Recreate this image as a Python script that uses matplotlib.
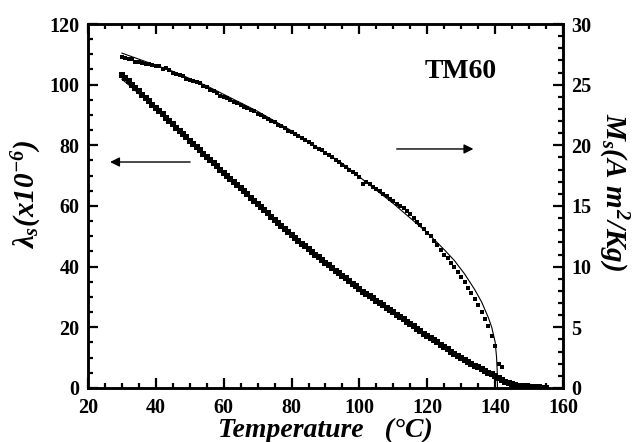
import matplotlib
matplotlib.use("Agg")
import matplotlib.pyplot as plt
import numpy as np

plt.rcParams['font.family'] = ['Liberation Serif', 'DejaVu Serif']
plt.rcParams['mathtext.fontset'] = 'custom'
plt.rcParams['mathtext.rm'] = 'Liberation Serif:italic:bold'
plt.rcParams['mathtext.it'] = 'Liberation Serif:italic:bold'
plt.rcParams['mathtext.bf'] = 'Liberation Serif:italic:bold'

# ---- data ----
lam_T = list(range(30, 156))
lam_data = [103.3, 102.2, 101.1, 100.0, 98.9, 97.8, 96.7, 95.6, 94.5, 93.4, 92.3,
            91.2, 90.2, 89.1, 88.0, 86.9, 85.8, 84.7, 83.7, 82.6, 81.5,
            80.4, 79.4, 78.4, 77.3, 76.2, 75.2, 74.1, 73.1, 72.0, 71.0,
            70.0, 69.0, 67.9, 66.9, 65.9, 64.9, 63.9, 62.8, 61.8, 60.8,
            59.8, 58.7, 57.6, 56.5, 55.5, 54.5, 53.5, 52.5, 51.5, 50.5,
            49.5, 48.6, 47.6, 46.7, 45.7, 44.8, 44.0, 43.1, 42.2, 41.3,
            40.4, 39.6, 38.7, 37.8, 36.9, 36.1, 35.2, 34.3, 33.5, 32.6,
            31.8, 31.1, 30.3, 29.6, 28.8, 28.0, 27.3, 26.5, 25.8, 25.0,
            24.2, 23.4, 22.7, 21.9, 21.1, 20.3, 19.5, 18.7, 17.9, 17.2,
            16.5, 15.7, 15.0, 14.2, 13.5, 12.8, 12.0, 11.3, 10.5, 9.8,
            9.2, 8.6, 8.0, 7.4, 6.8, 6.2, 5.6, 5.0, 4.5, 3.9,
            3.2, 2.6, 2.0, 1.5, 1.2, 0.9, 0.7, 0.6, 0.5, 0.4, 0.3, 0.25, 0.2, 0.15, 0.1]

lam_fit_T = [30, 33, 36, 40, 50, 60, 70, 80, 90, 100, 110, 120, 130, 140, 142, 145, 148, 152]
lam_fit = [101.8, 99.0, 96.0, 92.0, 81.4, 71.0, 60.8, 50.5, 41.3, 32.6, 25.0, 17.2, 9.8, 3.9, 2.6, 1.2, 0.6, 0.2]

ms_T = list(range(30, 143))
ms_data = [27.3, 27.2, 27.1, 27.1, 26.9, 26.9, 26.8, 26.7, 26.7, 26.6,
           26.5, 26.5, 26.3, 26.4, 26.2, 26.0, 25.9, 25.8, 25.7, 25.5,
           25.4, 25.3, 25.2, 25.1, 24.9, 24.8, 24.6, 24.5, 24.3, 24.1,
           24.0, 23.9, 23.7, 23.6, 23.5, 23.3, 23.2, 23.1, 22.9, 22.8,
           22.6, 22.5, 22.3, 22.2, 22.0, 21.9, 21.7, 21.6, 21.4, 21.2,
           21.1, 20.9, 20.8, 20.6, 20.4, 20.3, 20.1, 19.9, 19.7, 19.6,
           19.4, 19.2, 19.0, 18.8, 18.6, 18.4, 18.2, 18.0, 17.8, 17.6,
           17.4, 16.8, 17.0, 16.8, 16.6, 16.4, 16.2, 16.0, 15.8, 15.6,
           15.4, 15.2, 15.0, 14.8, 14.6, 14.3, 14.0, 13.7, 13.4, 13.1,
           12.8, 12.5, 12.1, 11.8, 11.4, 11.0, 10.7, 10.3, 9.95, 9.55,
           9.15, 8.7, 8.25, 7.8, 7.3, 6.8, 6.3, 5.7, 5.1, 4.3,
           3.5, 2.0, 1.7]

ms_fit_T = [30, 35, 40, 45, 50, 55, 60, 65, 70, 75, 80, 85, 90, 95, 100, 105, 110,
            115, 120, 125, 128, 131, 134, 136, 138, 139, 140, 140.4, 140.6, 140.7]
ms_fit = [27.6, 27.1, 26.6, 26.1, 25.5, 24.9, 24.2, 23.5, 22.8, 22.0, 21.2, 20.3, 19.4,
          18.5, 17.4, 16.3, 15.2, 14.0, 12.8, 11.4, 10.5, 9.4, 8.1, 7.1, 5.8, 5.0, 3.8,
          2.6, 1.5, 0.0]

x_ticks = [20, 40, 60, 80, 100, 120, 140, 160]
left_ticks = [0, 20, 40, 60, 80, 100, 120]
right_ticks = [0, 5, 10, 15, 20, 25, 30]

# ---- figure ----
W, H = 634, 442
fig = plt.figure(figsize=(W / 100, H / 100), dpi=100)
ax = fig.add_axes([0.1388, 0.1222, 0.7492, 0.8235])
ax2 = ax.twinx()

ax.plot(lam_T, lam_data, linestyle='none', marker='s', markersize=4.0,
        color='black', markeredgewidth=0)
ax.plot(lam_fit_T, lam_fit, color='black', linewidth=0.8)

ax2.plot(ms_T, ms_data, linestyle='none', marker='s', markersize=3.2,
         color='black', markeredgewidth=0)
ax2.plot(ms_fit_T, ms_fit, color='black', linewidth=0.8)

ax.set_xlim(20, 160)
ax.set_ylim(0, 120)
ax2.set_ylim(0, 30)

ax.set_xticks(x_ticks)
ax.set_xticks(np.arange(20, 161, 5), minor=True)
ax.set_yticks(left_ticks)
ax.set_yticks(np.arange(0, 121, 5), minor=True)
ax2.set_yticks(right_ticks)
ax2.set_yticks(np.arange(0, 31, 1), minor=True)

tick_font = dict(family='Liberation Serif', weight='bold', size=14.5)
ax.set_xticklabels([str(t) for t in x_ticks], fontdict=tick_font)
ax.set_yticklabels([str(t) for t in left_ticks], fontdict=tick_font)
ax2.set_yticklabels([str(t) for t in right_ticks], fontdict=tick_font)

ax.tick_params(axis='x', which='both', direction='in', top=True, bottom=True,
               width=1.6, pad=7)
ax.tick_params(axis='x', which='major', length=7)
ax.tick_params(axis='x', which='minor', length=3.5)
ax.tick_params(axis='y', which='both', direction='in', left=True, right=False,
               width=1.6, pad=6)
ax.tick_params(axis='y', which='major', length=7)
ax.tick_params(axis='y', which='minor', length=3.5)
ax2.tick_params(axis='y', which='both', direction='in', right=True, left=False,
                width=1.6, pad=6)
ax2.tick_params(axis='y', which='major', length=7)
ax2.tick_params(axis='y', which='minor', length=3.5)

for a in (ax, ax2):
    for s in a.spines.values():
        s.set_linewidth(1.8)

ax.set_xlabel('Temperature   (\u00b0C)', fontsize=20, fontweight='bold',
              fontstyle='italic', labelpad=0)

fig.text(27 / W, 1 - 194 / H, r'$\lambda_s(x10^{-6})$', fontsize=21,
         rotation=90, ha='center', va='center')
fig.text(613 / W, 1 - 192 / H, r'$M_s(A\ m^2/Kg)$', fontsize=21,
         rotation=-90, ha='center', va='center')

ax.text(129.8, 104.3, 'TM60', fontsize=20, fontweight='bold', ha='center', va='center')

ax.annotate('', xy=(26.5, 74.5), xytext=(50.1, 74.5),
            arrowprops=dict(arrowstyle='-|>', color='black', lw=1.0,
                            mutation_scale=14, shrinkA=0, shrinkB=0))
ax.annotate('', xy=(133.6, 78.8), xytext=(111.0, 78.8),
            arrowprops=dict(arrowstyle='-|>', color='black', lw=1.0,
                            mutation_scale=14, shrinkA=0, shrinkB=0))

fig.savefig('out.png', dpi=100)
